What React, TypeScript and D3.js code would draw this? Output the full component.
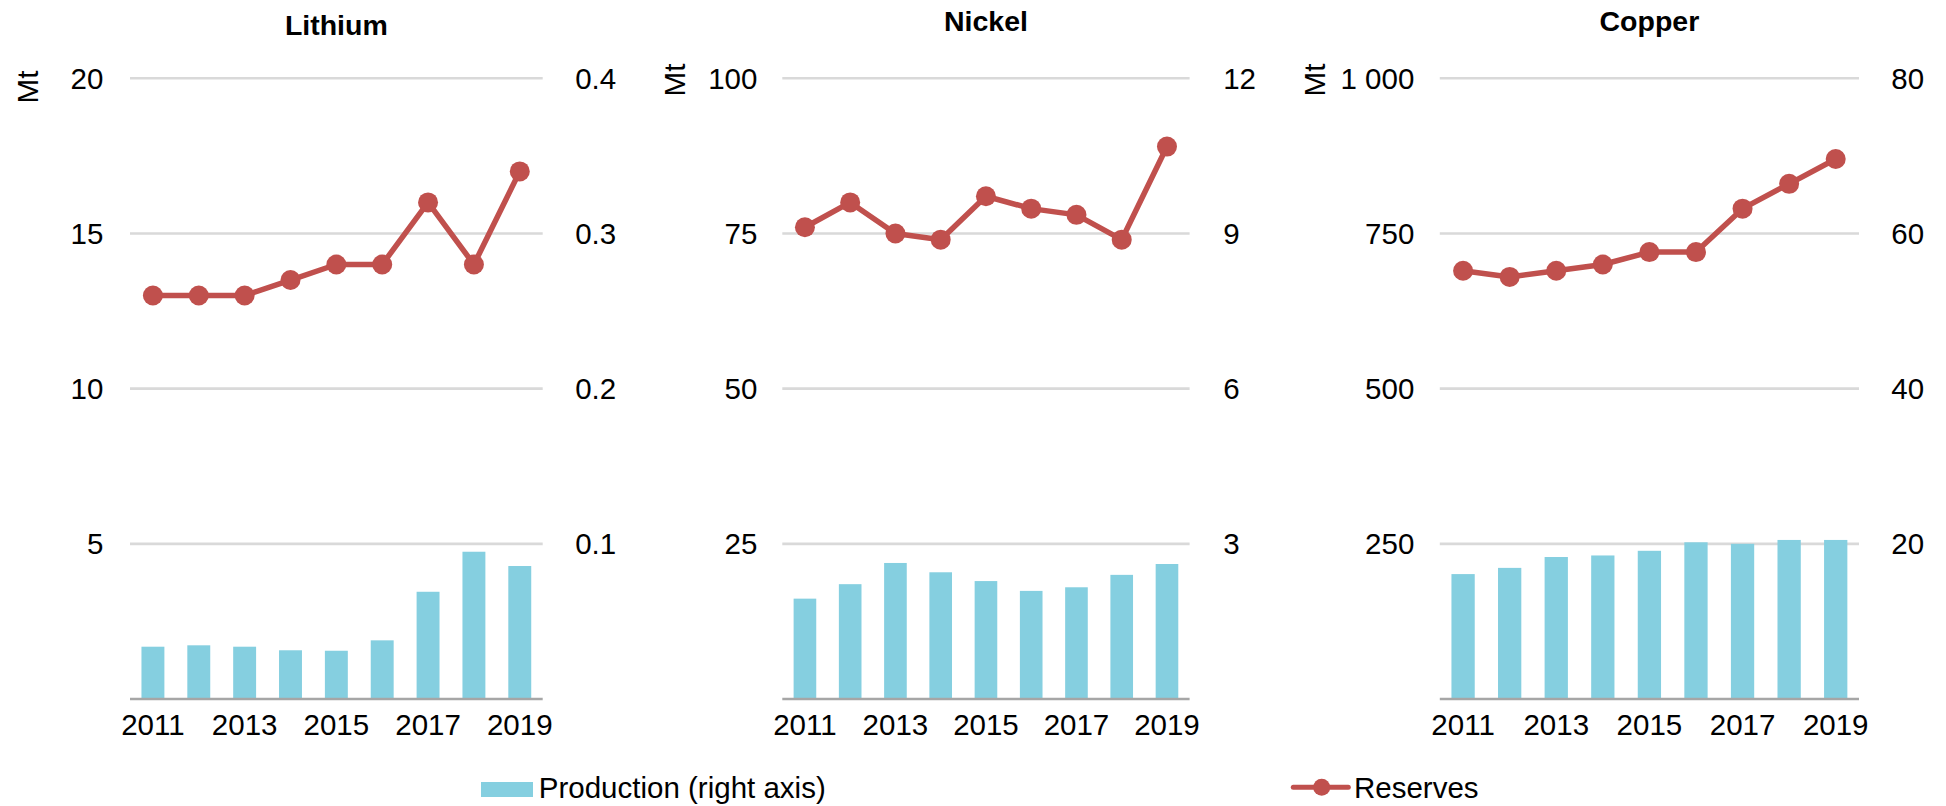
import React from "react";
import * as d3 from "d3";

const years = ["2011", "2012", "2013", "2014", "2015", "2016", "2017", "2018", "2019"];
const yearTickLabels = ["2011", "2013", "2015", "2017", "2019"];

const lithiumReserves = [13, 13, 13, 13.5, 14, 14, 16, 14, 17];
const lithiumProduction = [0.0337, 0.0346, 0.0337, 0.0314, 0.0311, 0.0378, 0.0691, 0.0949, 0.0857];
const nickelReserves = [76, 80, 75, 74, 81, 79, 78, 74, 89];
const nickelProduction = [1.94, 2.22, 2.63, 2.45, 2.28, 2.09, 2.16, 2.4, 2.61];
const copperReserves = [690, 680, 690, 700, 720, 720, 790, 830, 870];
const copperProduction = [16.1, 16.9, 18.3, 18.5, 19.1, 20.2, 20.0, 20.5, 20.5];

const lithiumLeftTicks = [5, 10, 15, 20];
const lithiumRightTicks = [0.1, 0.2, 0.3, 0.4];
const nickelLeftTicks = [25, 50, 75, 100];
const nickelRightTicks = [3, 6, 9, 12];
const copperLeftTicks = [250, 500, 750, 1000];
const copperRightTicks = [20, 40, 60, 80];

const RED = "#C0504D";
const BLUE = "#85CFE0";
const GRID = "#D9D9D9";
const AXIS = "#A6A6A6";
const FONT = "'Liberation Sans', Arial, Helvetica, sans-serif";
const FS = 29.5;

const fmtLeft = (v: number) => (v >= 1000 ? d3.format(",")(v).replace(/,/g, " ") : String(v));

type PanelProps = {
  title: string;
  titleY: number;
  mtX: number;
  mtY: number;
  x0: number;
  x1: number;
  leftLabelX: number;
  rightLabelX: number;
  leftMax: number;
  rightMax: number;
  leftTicks: number[];
  rightTicks: number[];
  reserves: number[];
  production: number[];
};

const Y_TOP = 78.3;
const Y_BOTTOM = 699;

function Panel(p: PanelProps) {
  const x = d3.scaleBand<string>().domain(years).range([p.x0, p.x1]).paddingInner(0.5).paddingOuter(0.25);
  const yL = d3.scaleLinear().domain([0, p.leftMax]).range([Y_BOTTOM, Y_TOP]);
  const yR = d3.scaleLinear().domain([0, p.rightMax]).range([Y_BOTTOM, Y_TOP]);
  const cx = (y: string) => (x(y) as number) + x.bandwidth() / 2;
  const line = d3
    .line<number>()
    .x((_, i) => cx(years[i]))
    .y((d) => yL(d));
  const tx = (p.x0 + p.x1) / 2;
  return (
    <g>
      <text x={tx} y={p.titleY} textAnchor="middle" fontWeight="bold" fontSize={28.5}>
        {p.title}
      </text>
      <text
        transform={`translate(${p.mtX},${p.mtY}) rotate(-90)`}
        textAnchor="middle"
        dominantBaseline="central"
        fontSize={FS}
      >
        Mt
      </text>
      {p.leftTicks.map((t) => (
        <line key={"g" + t} x1={p.x0} x2={p.x1} y1={yL(t)} y2={yL(t)} stroke={GRID} strokeWidth={2.6} />
      ))}
      {p.leftTicks.map((t) => (
        <text key={"l" + t} x={p.leftLabelX} y={yL(t) + 10.5} textAnchor="end" fontSize={FS}>
          {fmtLeft(t)}
        </text>
      ))}
      {p.rightTicks.map((t) => (
        <text key={"r" + t} x={p.rightLabelX} y={yR(t) + 10.5} textAnchor="start" fontSize={FS}>
          {String(t)}
        </text>
      ))}
      {p.production.map((v, i) => (
        <rect
          key={"b" + i}
          x={x(years[i])}
          y={yR(v)}
          width={x.bandwidth()}
          height={Y_BOTTOM - yR(v)}
          fill={BLUE}
        />
      ))}
      <line x1={p.x0} x2={p.x1} y1={Y_BOTTOM} y2={Y_BOTTOM} stroke={AXIS} strokeWidth={2.6} />
      {yearTickLabels.map((yl) => (
        <text key={"x" + yl} x={cx(yl)} y={734.5} textAnchor="middle" fontSize={FS}>
          {yl}
        </text>
      ))}
      <path d={line(p.reserves) || ""} fill="none" stroke={RED} strokeWidth={5.5} strokeLinejoin="round" />
      {p.reserves.map((v, i) => (
        <circle key={"c" + i} cx={cx(years[i])} cy={yL(v)} r={10} fill={RED} />
      ))}
    </g>
  );
}

export default function App() {
  return (
    <svg
      width={1946}
      height={806}
      style={{ position: "absolute", left: 0, top: 0, background: "#fff" }}
      fontFamily={FONT}
      fill="#000"
    >
      <rect x={0} y={0} width={1946} height={806} fill="#fff" />
      <Panel
        title="Lithium"
        titleY={35}
        mtX={27.6}
        mtY={87}
        x0={130}
        x1={542.7}
        leftLabelX={103.3}
        rightLabelX={575.2}
        leftMax={20}
        rightMax={0.4}
        leftTicks={lithiumLeftTicks}
        rightTicks={lithiumRightTicks}
        reserves={lithiumReserves}
        production={lithiumProduction}
      />
      <Panel
        title="Nickel"
        titleY={31}
        mtX={674.8}
        mtY={80}
        x0={782.3}
        x1={1189.6}
        leftLabelX={757.4}
        rightLabelX={1223.2}
        leftMax={100}
        rightMax={12}
        leftTicks={nickelLeftTicks}
        rightTicks={nickelRightTicks}
        reserves={nickelReserves}
        production={nickelProduction}
      />
      <Panel
        title="Copper"
        titleY={31}
        mtX={1314.3}
        mtY={80}
        x0={1439.8}
        x1={1859}
        leftLabelX={1414.3}
        rightLabelX={1891.3}
        leftMax={1000}
        rightMax={80}
        leftTicks={copperLeftTicks}
        rightTicks={copperRightTicks}
        reserves={copperReserves}
        production={copperProduction}
      />
      <g>
        <rect x={481} y={782} width={52} height={15} fill={BLUE} />
        <text x={538.8} y={797.5} fontSize={FS}>
          Production (right axis)
        </text>
        <line x1={1293.3} x2={1348.3} y1={787.3} y2={787.3} stroke={RED} strokeWidth={5} strokeLinecap="round" />
        <circle cx={1321.7} cy={787.3} r={8.5} fill={RED} />
        <text x={1354} y={797.5} fontSize={FS}>
          Reserves
        </text>
      </g>
    </svg>
  );
}
